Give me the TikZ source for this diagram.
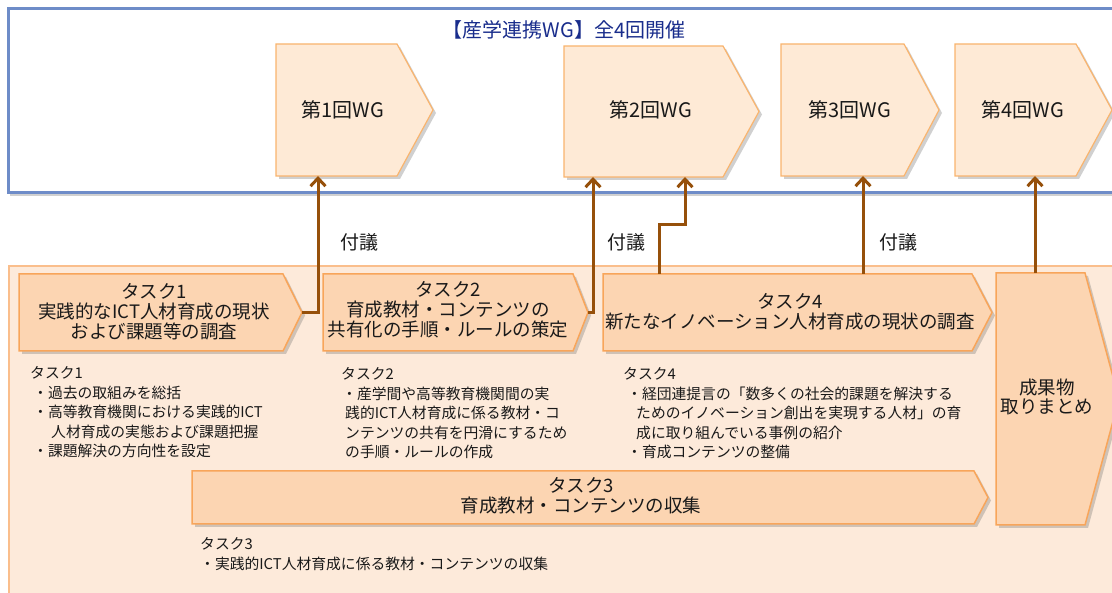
\documentclass[tikz,border=0pt]{standalone}
\usepackage{fontspec}
\setmainfont{Noto Sans CJK JP}
\usetikzlibrary{arrows.meta,shadows}
\definecolor{bluebd}{RGB}{110,140,200}
\definecolor{navy}{RGB}{25,45,140}
\definecolor{wgfill}{RGB}{254,234,214}
\definecolor{wgdraw}{RGB}{249,180,110}
\definecolor{tkfill}{RGB}{252,213,178}
\definecolor{tkdraw}{RGB}{248,165,90}
\definecolor{bgfill}{RGB}{253,234,218}
\definecolor{bgdraw}{RGB}{250,190,140}
\definecolor{arrbrown}{RGB}{150,80,10}
\newcommand\mkpent[7]{%
  \path[#1] (#3,#4) -- (#5-#7,#4) -- (#5,{(#4+#6)/2}) -- (#5-#7,#6) -- (#3,#6) -- cycle;
  \node[inner sep=0pt, outer sep=0pt, minimum width={(#5-#3)*1pt}, minimum height={(#6-#4)*1pt}] (#2) at ({(#3+#5)/2},{(#4+#6)/2}) {};
}
\begin{document}
\begin{tikzpicture}[x=1pt,y=-1pt,
  shad/.style={drop shadow={shadow xshift=3pt, shadow yshift=-3pt, opacity=0.3, fill=black!60}},
  wgsty/.style={fill=wgfill, draw=wgdraw, line width=1.2pt, shad},
  tksty/.style={fill=tkfill, draw=tkdraw, line width=1.5pt, shad},
  wgtxt/.style={font=\fontsize{20}{22}\selectfont, text=black!90, inner sep=0pt},
  tktxt/.style={font=\fontsize{18.5}{20}\selectfont, align=center, anchor=base, inner sep=0pt, text=black!90},
  desc/.style={font=\fontsize{14.8}{19.6}\selectfont, align=left, anchor=base west, inner sep=0pt, text=black!90},
  fugi/.style={font=\fontsize{19}{20}\selectfont, inner sep=0pt, text=black!90},
  arr/.style={draw=arrbrown, line width=3pt, -{Straight Barb[length=8pt,width=15pt]}},
]
\useasboundingbox (0,0) rectangle (1112,593);
\clip (0,0) rectangle (1112,593);
\fill[white] (0,0) rectangle (1112,593);
% top frame
\path[draw=bluebd, line width=3pt, fill=white, drop shadow={shadow xshift=2pt, shadow yshift=-3pt, opacity=0.3, fill=black!60}] (8,9) rectangle (1150,193);
\node[font=\fontsize{20}{22}\selectfont, text=navy, inner sep=0pt] (title) at (564,30) {【産学連携WG】全4回開催};
% bottom background
\path[draw=bgdraw, line width=1.5pt, fill=bgfill] (9,266) rectangle (1150,650);
% WG shapes
\mkpent{wgsty}{wg1}{276}{44}{433}{176}{36}
\mkpent{wgsty}{wg2}{564}{46}{759}{177}{36}
\mkpent{wgsty}{wg3}{781}{44}{939}{176}{35}
\mkpent{wgsty}{wg4}{955}{44}{1112}{176}{36}
\node[wgtxt] (wg1t) at (343,110) {第1回WG};
\node[wgtxt] (wg2t) at (651,110) {第2回WG};
\node[wgtxt] (wg3t) at (850,110) {第3回WG};
\node[wgtxt] (wg4t) at (1023,110) {第4回WG};
% task shapes
\mkpent{tksty}{t1}{19}{274}{302}{351}{19}
\mkpent{tksty}{t2}{323}{274}{588}{351}{15}
\mkpent{tksty}{t4}{603}{274}{992}{351}{20}
\mkpent{tksty}{t3}{192}{471}{988}{524}{14}
\mkpent{tksty}{res}{996}{273}{1119}{525}{34}
% (base anchor = baseline of the last line)
\node[tktxt] (t1t) at (154,339) {タスク1\\実践的なICT人材育成の現状\\および課題等の調査};
\node[tktxt] (t2t) at (448,337) {タスク2\\育成教材・コンテンツの\\共有化の手順・ルールの策定};
\node[tktxt] (t4t) at (790,329) {タスク4\\新たなイノベーション人材育成の現状の調査};
\node[tktxt] (t3t) at (581,513) {タスク3\\育成教材・コンテンツの収集};
\node[tktxt, font=\fontsize{18.5}{19.5}\selectfont] (rest) at (1047,414) {成果物\\取りまとめ};
% descriptions
\node[desc] (d1) at (30,457) {タスク1\\\hspace*{3pt}・過去の取組みを総括\\\hspace*{3pt}・高等教育機関における実践的ICT\\\hspace*{21pt}人材育成の実態および課題把握\\\hspace*{3pt}・課題解決の方向性を設定};
\node[desc] (d2) at (341,458) {タスク2\\\hspace*{1pt}・産学間や高等教育機関間の実\\\hspace*{4pt}践的ICT人材育成に係る教材・コ\\\hspace*{4pt}ンテンツの共有を円滑にするため\\\hspace*{4pt}の手順・ルールの作成};
\node[desc] (d4) at (623,458) {タスク4\\\hspace*{4pt}・経団連提言の「数多くの社会的課題を解決する\\\hspace*{13pt}ためのイノベーション創出を実現する人材」の育\\\hspace*{13pt}成に取り組んでいる事例の紹介\\\hspace*{4pt}・育成コンテンツの整備};
\node[desc] (d3) at (200,569) {タスク3\\・実践的ICT人材育成に係る教材・コンテンツの収集};
% 付議 labels
\node[fugi] (f1) at (359,242) {付議};
\node[fugi] (f2) at (626,242) {付議};
\node[fugi] (f3) at (898,242) {付議};
% connectors
\coordinate (x1) at (318,0);
\coordinate (x2) at (593,0);
\coordinate (x3a) at (659,0);
\coordinate (k3) at (685,225);
\coordinate (x4) at (863,0);
\coordinate (x5) at (1035,0);
\draw[arr] (t1.east) -| (wg1.south -| x1);
\draw[arr] (t2.east) -| (wg2.south -| x2);
\draw[arr] (t4.north -| x3a) |- (k3) -- (wg2.south -| k3);
\draw[arr] (t4.north -| x4) -- (wg3.south -| x4);
\draw[arr] (res.north -| x5) -- (wg4.south -| x5);
\end{tikzpicture}
\end{document}
